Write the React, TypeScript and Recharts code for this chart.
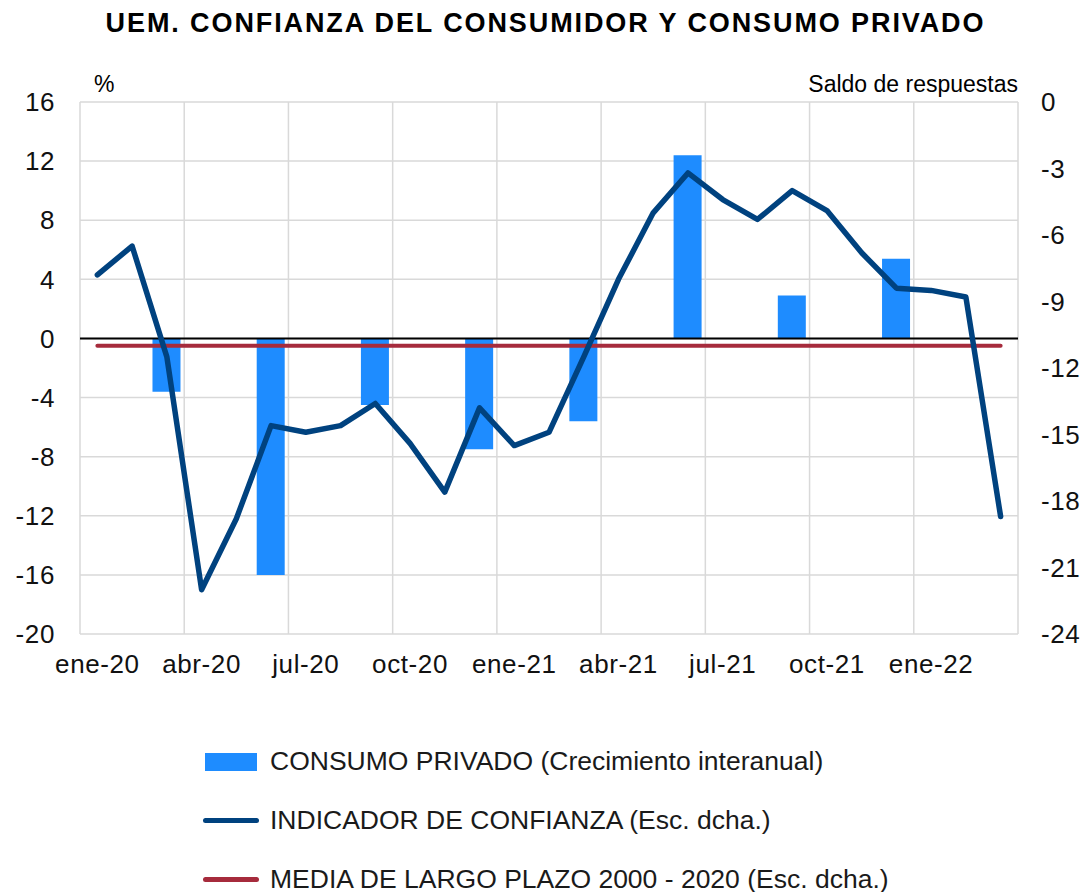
import { Bar, CartesianGrid, ComposedChart, Line, ReferenceLine, XAxis, YAxis } from 'recharts'

const months = [
  'ene-20', 'feb-20', 'mar-20', 'abr-20', 'may-20', 'jun-20', 'jul-20', 'ago-20', 'sep-20',
  'oct-20', 'nov-20', 'dic-20', 'ene-21', 'feb-21', 'mar-21', 'abr-21', 'may-21', 'jun-21',
  'jul-21', 'ago-21', 'sep-21', 'oct-21', 'nov-21', 'dic-21', 'ene-22', 'feb-22', 'mar-22'
]

// consumo privado, crecimiento interanual (solo trimestral)
const consumo: (number | null)[] = [
  null, null, -3.6, null, null, -16.0, null, null, -4.5, null, null, -7.5, null, null,
  -5.6, null, null, 12.4, null, null, 2.9, null, null, 5.4, null, null, null
]

// indicador de confianza (saldo de respuestas)
const confianza = [
  -7.8, -6.5, -11.5, -22.0, -18.8, -14.6, -14.9, -14.6, -13.6, -15.4, -17.6, -13.8, -15.5,
  -14.9, -11.5, -8.0, -5.0, -3.2, -4.4, -5.3, -4.0, -4.9, -6.8, -8.4, -8.5, -8.8, -18.7
]

const mediaLargoPlazo = -11.0

const leftTicks = [16, 12, 8, 4, 0, -4, -8, -12, -16, -20]
const rightTicks = [0, -3, -6, -9, -12, -15, -18, -21, -24]
const gridMonths = ['ene-20', 'abr-20', 'jul-20', 'oct-20', 'ene-21', 'abr-21', 'jul-21', 'oct-21', 'ene-22']

const data = months.map((m, i) => ({
  mes: m,
  consumo: consumo[i],
  confianza: confianza[i],
  media: mediaLargoPlazo
}))

const font = '"Liberation Sans", Arial, sans-serif'
const tickStyle = { fontSize: 26, fill: '#111', fontFamily: font, letterSpacing: 0.6 }

function LegendRow({ kind, color, label }: { kind: 'bar' | 'line'; color: string; label: string }) {
  return (
    <div style={{ display: 'flex', alignItems: 'center', height: 59 }}>
      <div style={{ width: 67, display: 'flex', alignItems: 'center' }}>
        {kind === 'bar' ? (
          <div style={{ width: 52, height: 18, background: color, marginLeft: 2 }} />
        ) : (
          <div style={{ width: 56, height: 5, background: color, borderRadius: 3 }} />
        )}
      </div>
      <span style={{ fontSize: 26.5, color: '#1a1a1a' }}>{label}</span>
    </div>
  )
}

export default function App() {
  return (
    <div style={{ position: 'absolute', left: 0, top: 0, width: 1091, height: 892, background: '#fff', fontFamily: font }}>
      <div
        style={{
          position: 'absolute',
          top: 8,
          left: 0,
          width: 1091,
          textAlign: 'center',
          fontWeight: 'bold',
          fontSize: 27,
          letterSpacing: 1.9
        }}
      >
        UEM. CONFIANZA DEL CONSUMIDOR Y CONSUMO PRIVADO
      </div>
      <div style={{ position: 'absolute', top: 71, left: 94, fontSize: 23 }}>%</div>
      <div style={{ position: 'absolute', top: 71, right: 73, fontSize: 23 }}>Saldo de respuestas</div>
      <div style={{ position: 'absolute', top: 0, left: 0 }}>
        <ComposedChart width={1091} height={700} data={data} margin={{ top: 102, right: 0, bottom: 0, left: 0 }} barSize={28}>
          <CartesianGrid yAxisId="left" vertical={false} stroke="#d9d9d9" strokeWidth={1.5} />
          {gridMonths.map((m) => (
            <ReferenceLine key={m} x={m} yAxisId="left" position="start" stroke="#d9d9d9" strokeWidth={1.5} />
          ))}
          <ReferenceLine x="mar-22" yAxisId="left" position="end" stroke="#d9d9d9" strokeWidth={1.5} />
          <XAxis
            dataKey="mes"
            interval={2}
            axisLine={false}
            tickLine={false}
            tickSize={0}
            tickMargin={21}
            height={66}
            tick={tickStyle}
          />
          <YAxis
            yAxisId="left"
            orientation="left"
            domain={[-20, 16]}
            ticks={leftTicks}
            width={80}
            axisLine={false}
            tickLine={false}
            tickSize={0}
            tickMargin={25}
            tick={tickStyle}
          />
          <YAxis
            yAxisId="right"
            orientation="right"
            domain={[-24, 0]}
            ticks={rightTicks}
            width={73}
            axisLine={false}
            tickLine={false}
            tickSize={0}
            tickMargin={23}
            tick={{ ...tickStyle, textAnchor: 'start' }}
          />
          <Bar yAxisId="left" dataKey="consumo" fill="#1e8cff" isAnimationActive={false} />
          <ReferenceLine y={0} yAxisId="left" stroke="#000" strokeWidth={2} />
          <Line
            yAxisId="right"
            dataKey="media"
            stroke="#a62b3c"
            strokeWidth={4}
            strokeLinecap="round"
            dot={false}
            isAnimationActive={false}
          />
          <Line
            yAxisId="right"
            dataKey="confianza"
            stroke="#00427f"
            strokeWidth={5.5}
            strokeLinecap="round"
            strokeLinejoin="round"
            dot={false}
            isAnimationActive={false}
          />
        </ComposedChart>
      </div>
      <div style={{ position: 'absolute', top: 732, left: 203 }}>
        <LegendRow kind="bar" color="#1e8cff" label="CONSUMO PRIVADO (Crecimiento interanual)" />
        <LegendRow kind="line" color="#00427f" label="INDICADOR DE CONFIANZA (Esc. dcha.)" />
        <LegendRow kind="line" color="#a62b3c" label="MEDIA DE LARGO PLAZO 2000 - 2020 (Esc. dcha.)" />
      </div>
    </div>
  )
}
